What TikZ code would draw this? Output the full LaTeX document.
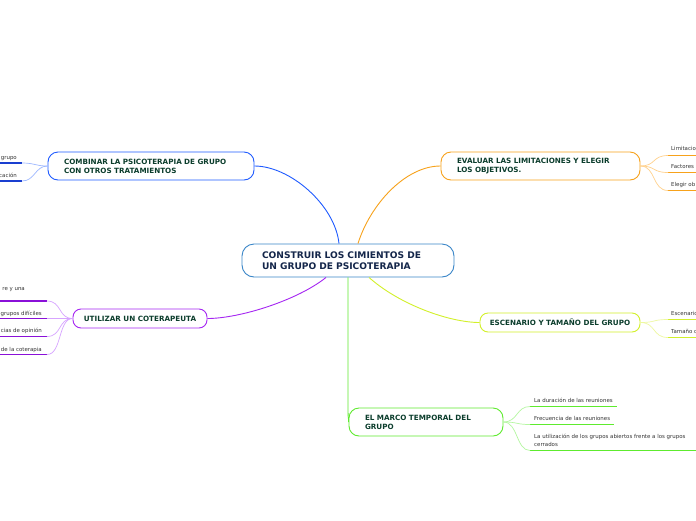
\documentclass[tikz,border=0pt]{standalone}
\usepackage{fontspec}
\setmainfont{DejaVu Sans}
\definecolor{cenb}{HTML}{3A86C8}
\definecolor{cent}{HTML}{14264A}
\definecolor{nodet}{HTML}{0B3D2C}
\definecolor{bl}{HTML}{1F5BFF}
\definecolor{bll}{HTML}{9DB8FF}
\definecolor{bld}{HTML}{1A3FD0}
\definecolor{org}{HTML}{F7A21B}
\definecolor{orgl}{HTML}{FFD18C}
\definecolor{pur}{HTML}{A526F2}
\definecolor{purl}{HTML}{D7A4FF}
\definecolor{purd}{HTML}{8A10D8}
\definecolor{yel}{HTML}{D2F02A}
\definecolor{yell}{HTML}{EEF8A0}
\definecolor{grn}{HTML}{5EEB2E}
\definecolor{grnl}{HTML}{B4F7A0}
\definecolor{subt}{HTML}{333333}
\tikzset{
  topic/.style={draw, rounded corners=10pt, line width=0.9pt, text=nodet,
    font=\fontsize{7.2}{9}\selectfont\bfseries, inner ysep=0pt},
  subtxt/.style={font=\fontsize{5.45}{8}\selectfont, text=subt, inner sep=0pt},
  ul/.style={line width=1.4pt},
  br/.style={line width=0.9pt},
  sb/.style={line width=0.7pt},
}
\begin{document}
\begin{tikzpicture}[x=1pt,y=-1pt]
\useasboundingbox (0,0) rectangle (696,520);
\clip (0,0) rectangle (696,520);
\fill[white] (0,0) rectangle (696,520);

% central
\node[draw=cenb, rounded corners=12pt, line width=0.9pt, text=cent,
  font=\fontsize{9.1}{11}\selectfont\bfseries, align=left,
  text width=172pt, inner xsep=20pt, inner ysep=0pt, minimum height=33pt]
  (cen) at (348,260.5) {CONSTRUIR LOS CIMIENTOS DE\\UN GRUPO DE PSICOTERAPIA};

% topics
\node[topic, draw=bl, align=left, text width=174pt, inner xsep=16pt, minimum height=28pt]
  (comb) at (151,166) {COMBINAR LA PSICOTERAPIA DE GRUPO\\CON OTROS TRATAMIENTOS};
\node[topic, draw=org, align=left, text width=167pt, inner xsep=16pt, minimum height=28pt]
  (eval) at (540.5,166) {EVALUAR LAS LIMITACIONES Y ELEGIR\\LOS OBJETIVOS.};
\node[topic, draw=pur, rounded corners=8pt, align=center, minimum width=134pt, minimum height=19pt]
  (util) at (140,318.5) {UTILIZAR UN COTERAPEUTA};
\node[topic, draw=yel, rounded corners=8pt, align=center, minimum width=160pt, minimum height=19pt]
  (esc) at (560,322.5) {ESCENARIO Y TAMAÑO DEL GRUPO};
\node[topic, draw=grn, align=left, text width=122pt, inner xsep=16pt, minimum height=28pt]
  (marco) at (426,422) {EL MARCO TEMPORAL DEL\\GRUPO};

% branches
\draw[br, bl] ([xshift=-9pt]cen.north) .. controls (335,205) and (290,166) .. (comb.east);
\draw[br, org] ([xshift=10pt]cen.north) .. controls (370,205) and (405,166) .. (eval.west);
\draw[br, pur] ([xshift=-22pt]cen.south) .. controls (298,300) and (240,318.5) .. (util.east);
\draw[br, yel] ([xshift=21pt]cen.south) .. controls (400,305) and (450,322.5) .. (esc.west);
\draw[br, grn] (cen.south) -- (348,412) .. controls (348,418) and (349,420) .. (marco.west);

% combinar subs
\node[subtxt, anchor=base east] (c1) at (17,159) {grupo};
\node[subtxt, anchor=base east] (c2) at (17,177) {cación};
\coordinate (c1a) at (0,163); \coordinate (c1b) at (22,163);
\coordinate (c2a) at (0,181); \coordinate (c2b) at (22,181);
\draw[ul, bld] (c1a) -- (c1b);
\draw[ul, bld] (c2a) -- (c2b);
\draw[sb, bll] (comb.west) .. controls (35,166) and (35,163) .. (c1b);
\draw[sb, bll] (comb.west) .. controls (35,166) and (35,181) .. (c2b);

% utilizar subs
\node[subtxt, anchor=base east] (u1) at (25,290) {re y una};
\node[subtxt, anchor=base east] (u2) at (42,315) {grupos difíciles};
\node[subtxt, anchor=base east] (u3) at (42,332.5) {cias de opinión};
\node[subtxt, anchor=base east] (u4) at (42,351) {de la coterapia};
\coordinate (u1a) at (0,301); \coordinate (u1b) at (47,301);
\coordinate (u2a) at (0,318.5); \coordinate (u2b) at (47,318.5);
\coordinate (u3a) at (0,336.5); \coordinate (u3b) at (47,336.5);
\coordinate (u4a) at (0,354.5); \coordinate (u4b) at (47,354.5);
\foreach \i in {1,2,3,4}{ \draw[ul, purd] (u\i a) -- (u\i b); }
\draw[sb, purl] (util.west) .. controls (58,318.5) and (62,301) .. (u1b);
\draw[sb, purl] (util.west) -- (u2b);
\draw[sb, purl] (util.west) .. controls (58,318.5) and (62,336.5) .. (u3b);
\draw[sb, purl] (util.west) .. controls (58,318.5) and (62,354.5) .. (u4b);

% evaluar subs
\node[subtxt, anchor=base west] (e1) at (671,150) {Limitacio};
\node[subtxt, anchor=base west] (e2) at (671,168) {Factores};
\node[subtxt, anchor=base west] (e3) at (671,186) {Elegir ob};
\coordinate (e1a) at (668,155.5); \coordinate (e1b) at (700,155.5);
\coordinate (e2a) at (668,172.5); \coordinate (e2b) at (700,172.5);
\coordinate (e3a) at (668,190.5); \coordinate (e3b) at (700,190.5);
\foreach \i in {1,2,3}{ \draw[ul, org] (e\i a) -- (e\i b); }
\draw[sb, orgl] (eval.east) .. controls (656,166) and (652,155.5) .. (e1a);
\draw[sb, orgl] (eval.east) .. controls (656,166) and (652,172.5) .. (e2a);
\draw[sb, orgl] (eval.east) .. controls (656,166) and (652,190.5) .. (e3a);

% escenario subs
\node[subtxt, anchor=base west] (s1) at (671,315) {Escenario};
\node[subtxt, anchor=base west] (s2) at (671,333) {Tamaño d};
\coordinate (s1a) at (668,319.5); \coordinate (s1b) at (700,319.5);
\coordinate (s2a) at (668,337.5); \coordinate (s2b) at (700,337.5);
\foreach \i in {1,2}{ \draw[ul, yel] (s\i a) -- (s\i b); }
\draw[sb, yell] (esc.east) .. controls (656,322.5) and (652,319.5) .. (s1a);
\draw[sb, yell] (esc.east) .. controls (656,322.5) and (652,337.5) .. (s2a);

% marco subs
\node[subtxt, anchor=base west] (m1) at (534,402) {La duración de las reuniones};
\node[subtxt, anchor=base west] (m2) at (534,420) {Frecuencia de las reuniones};
\node[subtxt, anchor=north west, align=left] (m3) at (534,433.5) {La utilización de los grupos abiertos frente a los grupos\\cerrados};
\coordinate (m1a) at (530,406.5); \coordinate (m1b) at (617,406.5);
\coordinate (m2a) at (530,424.5); \coordinate (m2b) at (614,424.5);
\coordinate (m3a) at (530,450.5); \coordinate (m3b) at (700,450.5);
\foreach \i in {1,2,3}{ \draw[ul, grn] (m\i a) -- (m\i b); }
\draw[sb, grnl] (marco.east) .. controls (518,422) and (516,406.5) .. (m1a);
\draw[sb, grnl] (marco.east) .. controls (518,422) and (516,424.5) .. (m2a);
\draw[sb, grnl] (marco.east) .. controls (518,422) and (516,450.5) .. (m3a);
\end{tikzpicture}
\end{document}
